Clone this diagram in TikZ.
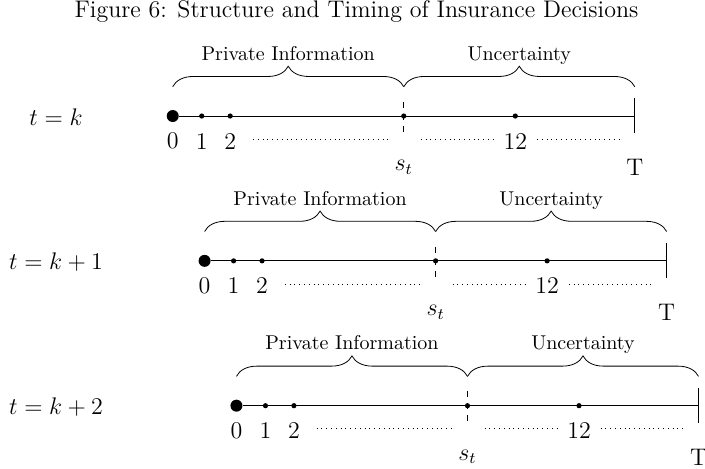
\documentclass[tikz,border=0pt]{standalone}
\usetikzlibrary{decorations.pathreplacing}
\tikzset{
  bigdot/.style={circle,fill,inner sep=0pt,minimum size=6pt},
  smalldot/.style={circle,fill,inner sep=0pt,minimum size=2.6pt},
  spanbrace/.style={decorate,decoration={brace,amplitude=3.6mm}},
  gapdots/.style={dotted,thin},
  marklab/.style={font=\large},
}
\begin{document}
\begin{tikzpicture}
    \useasboundingbox (-30.35mm,-61.86mm) rectangle (93.54mm,20.39mm);
    \node[font=\large] (title) at (32.3mm,18.3mm) {Figure 6: Structure and Timing of Insurance Decisions};

    \foreach \r/\lab in {0/{t=k},1/{t=k+1},2/{t=k+2}} {
      \begin{scope}[shift={({5.6mm*\r},{-25.45mm*\r})}]
        \node[font=\large] (when\r) at ({(-20.5-5.6*\r)*1mm},-0.2mm) {$\lab$};

        \node[bigdot] (zero\r) at (0,0) {};
        \node[smalldot] (one\r) at (5.1mm,0) {};
        \node[smalldot] (two\r) at (10.1mm,0) {};
        \node[smalldot] (st\r) at (40.6mm,0) {};
        \node[smalldot] (twelve\r) at (60.2mm,0) {};
        \coordinate (end\r) at (81.2mm,0);
        \draw[line width=0.5pt] (zero\r) -- (end\r);

        \node[marklab] (lzero\r) at (0,-4.4mm) {0};
        \node[marklab] (lone\r) at (5.1mm,-4.4mm) {1};
        \node[marklab] (ltwo\r) at (10.1mm,-4.4mm) {2};
        \node[marklab] (ltwelve\r) at (60.2mm,-4.4mm) {12};
        \node[marklab] (lst\r) at (40.6mm,-9mm) {$s_t$};
        \node[marklab] (lend\r) at (81.2mm,-9mm) {T};

        \draw[gapdots] (14.1mm,-4.05mm) -- (38.2mm,-4.05mm);
        \draw[gapdots] (43.6mm,-4.05mm) -- (56.3mm,-4.05mm);
        \draw[gapdots] (64mm,-4.05mm) -- (78.6mm,-4.05mm);

        \draw[dashed] ([yshift=2.5mm]st\r.center) -- ([yshift=-3mm]st\r.center);
        \draw ([yshift=3.1mm]end\r) -- ([yshift=-3mm]end\r);

        \draw[spanbrace] ([yshift=5.15mm]zero\r.center) -- ([yshift=5.15mm]st\r.center);
        \draw[spanbrace] ([yshift=5.15mm]st\r.center) -- ([yshift=5.15mm]end\r);
        \node[anchor=base] (priv\r) at (20.3mm,9.8mm) {Private Information};
        \node[anchor=base] (unc\r) at (60.9mm,9.8mm) {Uncertainty};
      \end{scope}
    }
  \end{tikzpicture}
\end{document}
